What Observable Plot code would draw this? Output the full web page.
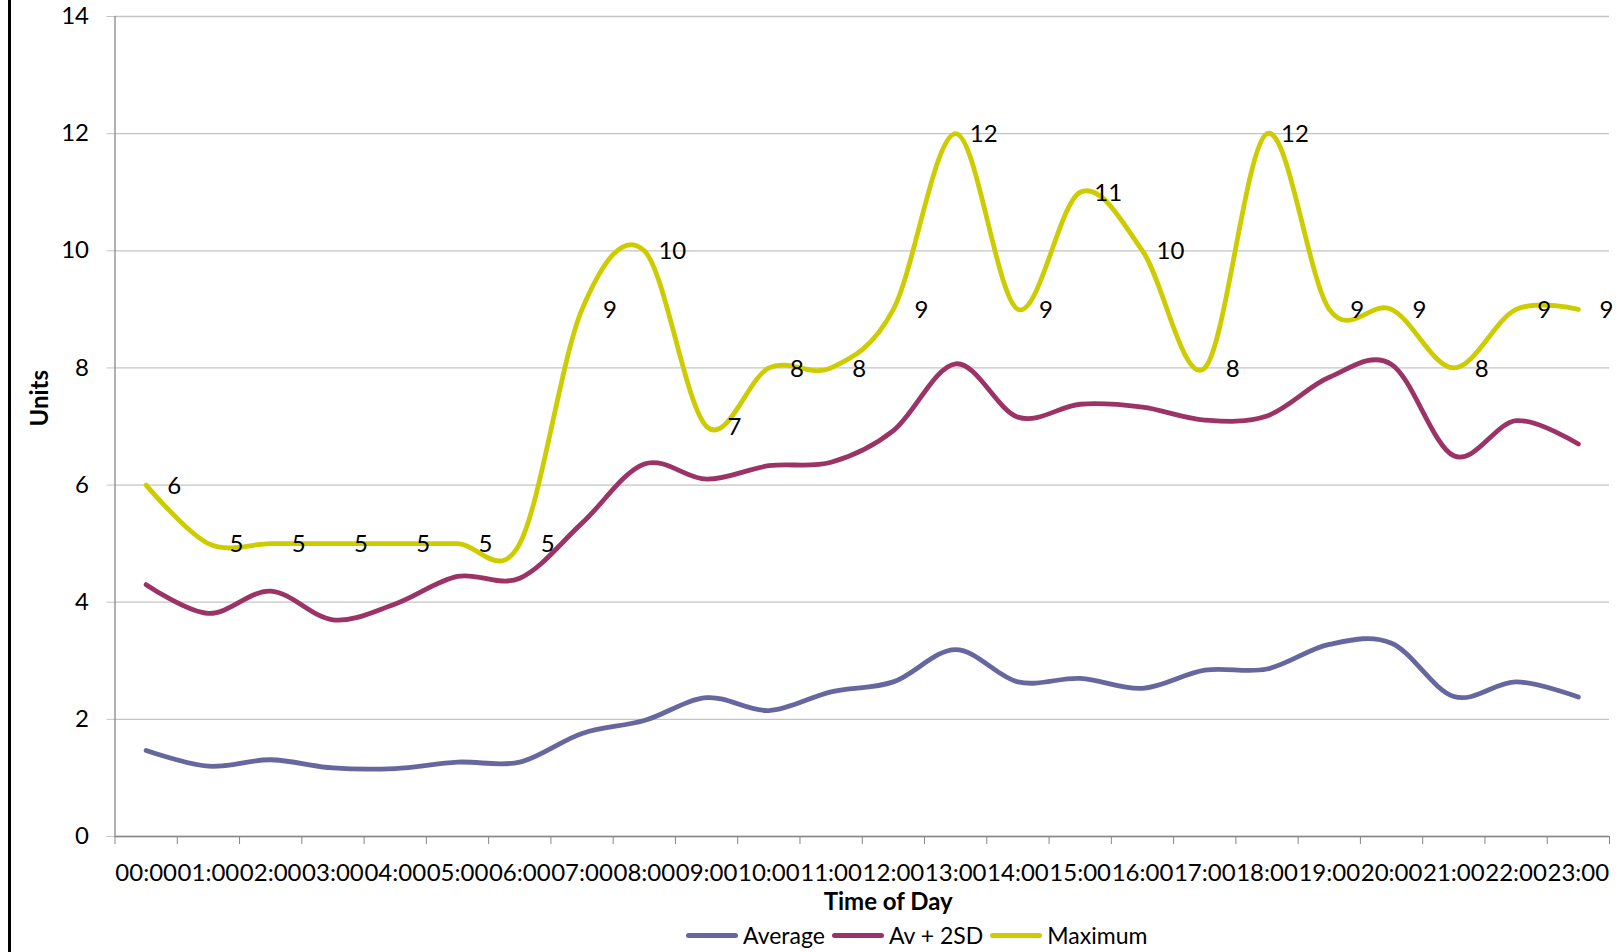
<!DOCTYPE html>
<html>
<head>
<meta charset="utf-8">
<script src="https://cdn.jsdelivr.net/npm/d3@7"></script>
<script src="https://cdn.jsdelivr.net/npm/@observablehq/plot@0.6"></script>
<style>
  html, body { margin: 0; padding: 0; background: #fff; }
  body { width: 1623px; height: 952px; position: relative; overflow: hidden; font-family: Lato, "Open Sans", sans-serif; }
  #border { position: absolute; left: 8px; top: 0; width: 3px; height: 952px; background: #000; }
  #chart { position: absolute; left: 0; top: 0; }
  #legend { position: absolute; left: 686px; top: 918px; height: 34px; display: flex; align-items: center; font-size: 23px; color: #000; }
  .item { display: flex; align-items: center; margin-right: 7px; }
  .sw { width: 52px; height: 5px; border-radius: 3px; margin-right: 5px; }
</style>
</head>
<body>
<div id="border"></div>
<div id="chart"></div>
<div id="legend"></div>
<script>
const hours = ["00:00","01:00","02:00","03:00","04:00","05:00","06:00","07:00","08:00","09:00","10:00","11:00",
               "12:00","13:00","14:00","15:00","16:00","17:00","18:00","19:00","20:00","21:00","22:00","23:00"];
const seriesNames = ["Average", "Av + 2SD", "Maximum"];
const average   = [1.47,1.20,1.31,1.17,1.16,1.27,1.27,1.76,1.98,2.37,2.15,2.47,2.64,3.19,2.64,2.70,2.53,2.84,2.86,3.28,3.30,2.39,2.64,2.38];
const avPlus2SD = [4.30,3.81,4.19,3.70,3.97,4.44,4.41,5.35,6.36,6.10,6.33,6.39,6.93,8.07,7.16,7.38,7.33,7.11,7.18,7.84,8.06,6.50,7.10,6.70];
const maximum   = [6,5,5,5,5,5,5,9,10,7,8,8,9,12,9,11,10,8,12,9,9,8,9,9];
const yTicks = [0,2,4,6,8,10,12,14];

const colors = ["#67679F", "#9B3366", "#CCCC00"];
const valuesBySeries = [average, avPlus2SD, maximum];

const rows = [];
seriesNames.forEach((s, k) => hours.forEach((h, i) => rows.push({i, hour: h, series: s, value: valuesBySeries[k][i]})));
const maxRows = rows.filter(d => d.series === "Maximum");

const FS = 24;
const chart = Plot.plot({
  width: 1623,
  height: 918,
  marginLeft: 114.5,
  marginRight: 14,
  marginTop: 16,
  marginBottom: 82,
  style: {fontFamily: "Lato, 'Open Sans', sans-serif", fontSize: FS + "px", color: "#000", background: "transparent"},
  x: {type: "linear", domain: [-0.5, hours.length - 0.5]},
  y: {domain: [0, 14]},
  color: {domain: seriesNames, range: colors},
  marks: [
    Plot.gridY(yTicks, {stroke: "#c4c4c4", strokeOpacity: 1, strokeWidth: 1.3}),
    Plot.axisY(yTicks, {tickSize: 8, tickPadding: 18, stroke: "#c4c4c4", fill: "#000", fontSize: FS, tickFormat: d => String(d), label: null}),
    Plot.axisX(d3.range(hours.length + 1).map(i => i - 0.5), {tickSize: 8, stroke: "#878787", tickFormat: () => "", label: null}),
    Plot.axisX(d3.range(hours.length), {tickSize: 0, tickPadding: 27, tickFormat: i => hours[i], fill: "#000", fontSize: FS, label: null}),
    Plot.ruleX([-0.5], {stroke: "#878787", strokeWidth: 1.3}),
    Plot.ruleY([0], {stroke: "#878787", strokeWidth: 1.3}),
    Plot.line(rows, {x: "i", y: "value", z: "series", stroke: "series", curve: "cardinal", strokeWidth: 4.8, strokeLinecap: "round", strokeLinejoin: "round"}),
    Plot.text(maxRows, {x: "i", y: "value", text: d => String(d.value), dx: 28, dy: 1, fill: "#000", fontSize: FS}),
    Plot.text(["Units"], {text: d => d, frameAnchor: "left", dx: -75, rotate: -90, fontWeight: "bold", fontSize: FS, fill: "#000"}),
    Plot.text(["Time of Day"], {text: d => d, frameAnchor: "bottom", dx: 26, dy: 73, fontWeight: "bold", fontSize: FS, fill: "#000"})
  ]
});
document.getElementById("chart").appendChild(chart);

const legend = document.getElementById("legend");
seriesNames.forEach((s, k) => {
  const item = document.createElement("div");
  item.className = "item";
  const sw = document.createElement("div");
  sw.className = "sw";
  sw.style.background = colors[k];
  const label = document.createElement("span");
  label.textContent = s;
  item.appendChild(sw);
  item.appendChild(label);
  legend.appendChild(item);
});
</script>
</body>
</html>
